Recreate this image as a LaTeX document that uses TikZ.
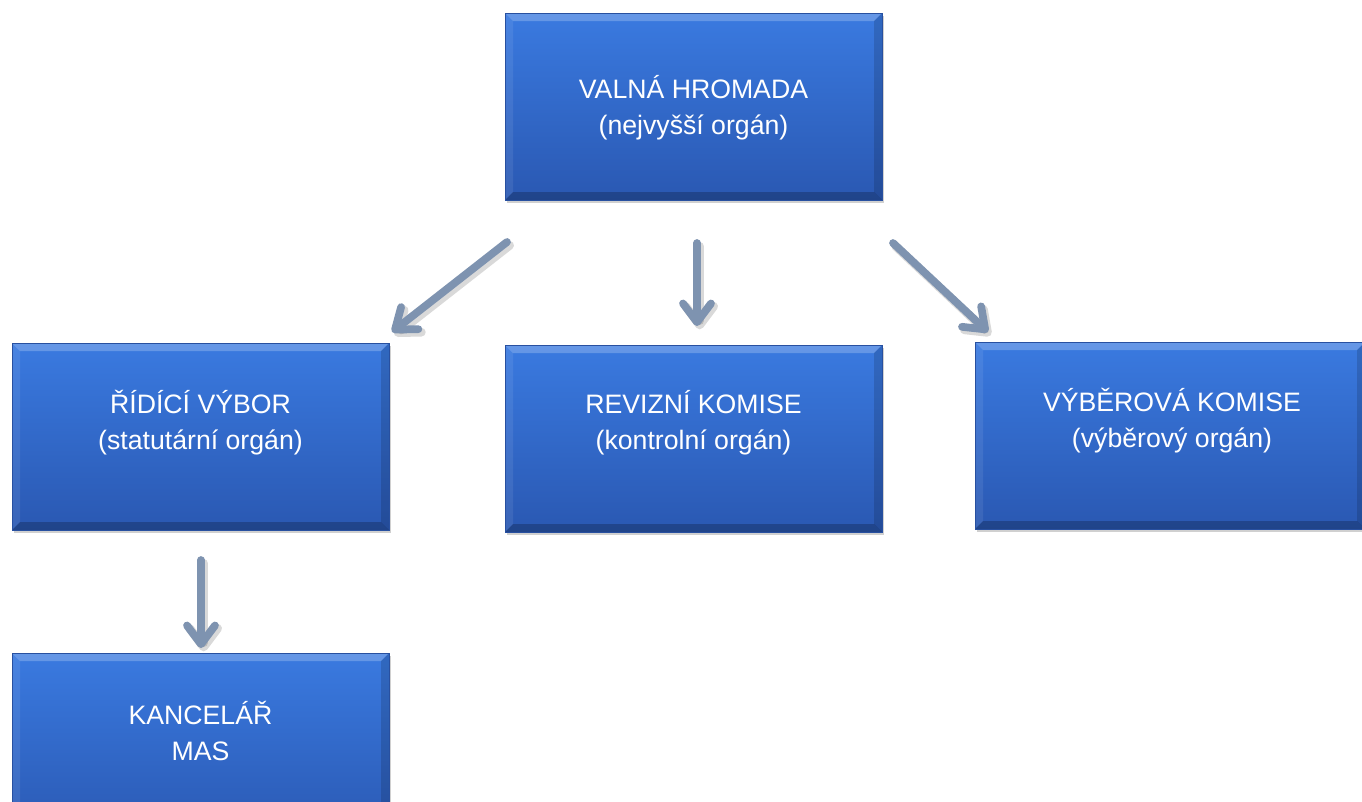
\documentclass[tikz,border=0pt]{standalone}
\usepackage{fontspec}
\setmainfont{Liberation Sans}
\usetikzlibrary{arrows.meta,shadows}
\definecolor{boxtop}{RGB}{58,122,224}
\definecolor{boxbot}{RGB}{42,88,178}
\definecolor{boxedge}{RGB}{40,80,160}
\definecolor{arrowc}{RGB}{126,147,176}
\tikzset{
  orgbox/.style={rectangle, minimum width=282.75pt, minimum height=140.25pt, inner sep=0pt,
    top color=boxtop, bottom color=boxbot, draw=boxedge, line width=0.4pt,
    drop shadow={opacity=0.3, shadow xshift=1.2pt, shadow yshift=-2.5pt, fill=black!60},
    path picture={
      \fill[white,opacity=0.22] (path picture bounding box.north west) -- (path picture bounding box.north east)
        -- ([shift={(-6pt,-6pt)}]path picture bounding box.north east) -- ([shift={(6pt,-6pt)}]path picture bounding box.north west) -- cycle;
      \fill[white,opacity=0.08] (path picture bounding box.north west) -- (path picture bounding box.south west)
        -- ([shift={(6pt,6pt)}]path picture bounding box.south west) -- ([shift={(6pt,-6pt)}]path picture bounding box.north west) -- cycle;
      \fill[black,opacity=0.14] (path picture bounding box.north east) -- (path picture bounding box.south east)
        -- ([shift={(-6pt,6pt)}]path picture bounding box.south east) -- ([shift={(-6pt,-6pt)}]path picture bounding box.north east) -- cycle;
      \fill[black,opacity=0.22] (path picture bounding box.south west) -- (path picture bounding box.south east)
        -- ([shift={(-6pt,6pt)}]path picture bounding box.south east) -- ([shift={(6pt,6pt)}]path picture bounding box.south west) -- cycle;
    }},
  lbl/.style={align=center, text=white, inner sep=0pt, font=\fontsize{20}{27}\selectfont},
  connector/.style={draw=arrowc, line width=5.8pt, line cap=round,
    -{Straight Barb[length=14pt,width=21pt,round]}},
  connshadow/.style={draw=black, opacity=0.15, line width=6.5pt, line cap=round,
    -{Straight Barb[length=14pt,width=21pt,round]}}
}
\begin{document}
\begin{tikzpicture}[x=0.75pt,y=-0.75pt]
\useasboundingbox (0,0) rectangle (1362,801);
\clip (0,0) rectangle (1362,801);
\fill[white] (0,0) rectangle (1362,801);
% boxes
\node[orgbox] (vh) at (693.5,106.5) {};
\node[orgbox] (rv) at (200.5,436.5) {};
\node[orgbox] (rk) at (693.5,438.5) {};
\node[orgbox, minimum width=292.5pt] (vk) at (1170,435.5) {};
\node[orgbox] (km) at (200.5,746.5) {};
% texts
\node[lbl] (vh-t) at ([yshift=-1pt]vh.center) {VALNÁ HROMADA\\(nejvyšší orgán)};
\node[lbl] (rv-t) at ([yshift=10.5pt]rv.center) {ŘÍDÍCÍ VÝBOR\\(statutární orgán)};
\node[lbl] (rk-t) at ([yshift=12pt]rk.center) {REVIZNÍ KOMISE\\(kontrolní orgán)};
\node[lbl] (vk-t) at ([xshift=1.5pt,yshift=11.5pt]vk.center) {VÝBĚROVÁ KOMISE\\(výběrový orgán)};
\node[lbl] (km-t) at ([yshift=12pt]km.center) {KANCELÁŘ\\MAS};
% connector endpoints
\coordinate (a1s) at (507,242);
\coordinate (a1e) at (392,332);
\coordinate (a2s) at (697,243);
\coordinate (a2e) at (697,326);
\coordinate (a3s) at (893,243);
\coordinate (a3e) at (988,332);
\coordinate (a4s) at (201,560);
\coordinate (a4e) at (201,648);
% shadows
\foreach \s/\e in {a1s/a1e,a2s/a2e,a3s/a3e,a4s/a4e}
  \draw[connshadow, transform canvas={xshift=2pt,yshift=-2.5pt}] (\s) -- (\e);
% connectors
\draw[connector] (a1s) -- (a1e);
\draw[connector] (a2s) -- (a2e);
\draw[connector] (a3s) -- (a3e);
\draw[connector] (a4s) -- (a4e);
\end{tikzpicture}
\end{document}
